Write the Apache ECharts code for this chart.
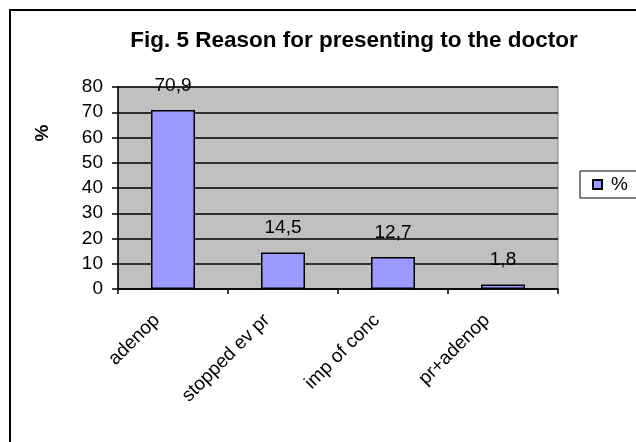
<!DOCTYPE html>
<html>
<head>
<meta charset="utf-8">
<script src="https://cdn.jsdelivr.net/npm/echarts@6/dist/echarts.min.js"></script>
<style>
html,body{margin:0;padding:0;background:#fff;}
#chart{width:636px;height:442px;}
</style>
</head>
<body>
<div id="chart"></div>
<script>
const categories = ['adenop', 'stopped ev pr', 'imp of conc', 'pr+adenop'];
const values = [70.9, 14.5, 12.7, 1.8];
const seriesName = '%';
const titleText = 'Fig. 5 Reason for presenting to the doctor';
const yTicks = [0, 10, 20, 30, 40, 50, 60, 70, 80];

const FONT = "'Liberation Sans', Arial, sans-serif";
const chart = echarts.init(document.getElementById('chart'), null, {renderer: 'canvas'});
chart.setOption({
  backgroundColor: '#ffffff',
  animation: false,
  graphic: [{
    type: 'rect',
    shape: {x: 10, y: 10, width: 700, height: 500},
    style: {fill: 'none', stroke: '#000', lineWidth: 2},
    silent: true,
    z: 100
  }],
  title: {
    text: titleText,
    left: 349,
    textAlign: 'center',
    top: 24,
    textStyle: {fontFamily: FONT, fontWeight: 'bold', fontSize: 22.5, color: '#000'}
  },
  legend: {
    data: [seriesName],
    left: 580,
    top: 171,
    orient: 'vertical',
    padding: [4, 10, 4, 12],
    itemWidth: 9,
    itemHeight: 9,
    itemGap: 4,
    borderColor: '#000',
    borderWidth: 1,
    icon: 'rect',
    textStyle: {fontFamily: FONT, fontSize: 19, color: '#000', padding: [0, 0, 0, 4]}
  },
  grid: {
    left: 118, right: 78, top: 87, bottom: 153,
    show: true,
    backgroundColor: '#c0c0c0',
    borderColor: '#808080',
    borderWidth: 1
  },
  xAxis: {
    type: 'category',
    data: categories,
    boundaryGap: true,
    axisLine: {show: true, lineStyle: {color: '#000', width: 1.5}},
    axisTick: {show: true, alignWithLabel: false, length: 5, inside: false, lineStyle: {color: '#000', width: 1.5}},
    axisLabel: {rotate: 45, margin: 12, padding: [0, 23, 0, 0], fontFamily: FONT, fontSize: 19, color: '#000', interval: 0},
    splitLine: {show: false}
  },
  yAxis: {
    type: 'value',
    min: yTicks[0],
    max: yTicks[yTicks.length - 1],
    interval: 10,
    name: seriesName,
    nameLocation: 'middle',
    nameRotate: 90,
    nameGap: 66,
    nameTextStyle: {fontFamily: FONT, fontWeight: 'bold', fontSize: 19, color: '#000', padding: [0, 0, 0, 110]},
    axisLine: {show: true, lineStyle: {color: '#000', width: 1.5}},
    axisTick: {show: true, length: 6, lineStyle: {color: '#000', width: 1.5}},
    axisLabel: {fontFamily: FONT, fontSize: 19, color: '#000', margin: 15},
    splitLine: {show: true, lineStyle: {color: '#000', width: 1.5}}
  },
  series: [{
    name: seriesName,
    type: 'bar',
    data: values,
    barWidth: '40%',
    itemStyle: {color: '#9999ff', borderColor: '#000', borderWidth: 1.5},
    label: {
      show: true,
      position: 'top',
      distance: 15,
      fontFamily: FONT,
      fontSize: 19,
      color: '#000',
      formatter: p => String(p.value).replace('.', ',')
    }
  }]
});
</script>
</body>
</html>
